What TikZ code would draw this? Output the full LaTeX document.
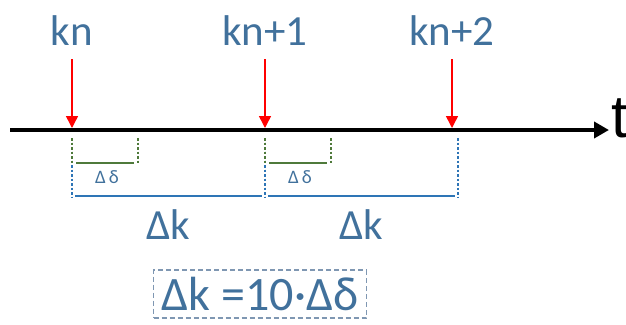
\documentclass[tikz,border=0pt]{standalone}
\usepackage{fontspec}
\setmainfont{Carlito}
\newfontfamily\axisfont{Liberation Sans}
\usetikzlibrary{arrows.meta}
\definecolor{kblue}{HTML}{41719C}
\definecolor{lblue}{HTML}{2E75B6}
\definecolor{dgreen}{HTML}{4F7A3B}
\definecolor{boxgray}{HTML}{7F97B2}

\begin{document}
\begin{tikzpicture}[x=1pt,y=-1pt,
  klab/.style={text=kblue,font=\fontsize{43}{43}\selectfont,inner sep=0pt,anchor=base,text depth=0pt},
  dlab/.style={text=kblue,font=\fontsize{19}{19}\selectfont,inner sep=0pt},
  hit/.style={red,line width=1.5pt,-{Triangle[length=12pt,width=12pt]},shorten <=14pt},
  axis/.style={line width=4pt,-{Triangle[length=15pt,width=16pt]}},
  sub/.style={dgreen,line width=1.5pt},
  subdot/.style={dgreen,line width=1.5pt,dash pattern=on 2.5pt off 2pt},
  full/.style={lblue,line width=1.5pt},
  fulldot/.style={lblue,line width=1.5pt,dash pattern=on 2.5pt off 2pt},
  eqbox/.style={draw=boxgray,line width=1.2pt,dash pattern=on 5pt off 3pt,text=kblue,
    font=\fontsize{48}{48}\selectfont,minimum height=48pt,inner xsep=8pt,inner ysep=0pt}
]
  \useasboundingbox (0,0) rectangle (626,324);
  % time axis
  \coordinate (start) at (10,130);
  \coordinate (end) at (609,130);
  \draw[axis] (start) -- (end);
  \node[anchor=base west,inner sep=0pt,font=\axisfont\fontsize{60}{60}\selectfont] (t) at (611,137) {t};
  % sampling instants
  \node[klab] (kn) at (72,45) {kn};
  \node[klab] (kn1) at (265,45) {kn+1};
  \node[klab] (kn2) at (452,45) {kn+2};
  \coordinate (t0) at (72,128);
  \coordinate (t1) at (265,128);
  \coordinate (t2) at (452,128);
  \draw[hit] (kn.south) -- (t0);
  \draw[hit] (kn1.south) -- (t1);
  \draw[hit] (kn2.south) -- (t2);
  % one interval dk each, with its first step dd
  \foreach \a/\b in {72/265,265/458}{
    \draw[fulldot] (\a,138) -- (\a,197);
    \draw[fulldot] (\b,138) -- (\b,197);
    \draw[full] (\a+3,196) -- (\b-3,196);
    \draw[subdot] (\a,138) -- (\a,163);
    \draw[subdot] (\a+66,138) -- (\a+66,163);
    \draw[sub] (\a+4,163) -- (\a+62,163);
    \node[dlab] at (\a+35,177) {Δ\,δ};
    \node[klab,anchor=center] at ({(\a+\b)/2},225) {Δk};
  }
  \node[eqbox] (eq) at (260,294) {Δk =10·Δδ};
\end{tikzpicture}
\end{document}
